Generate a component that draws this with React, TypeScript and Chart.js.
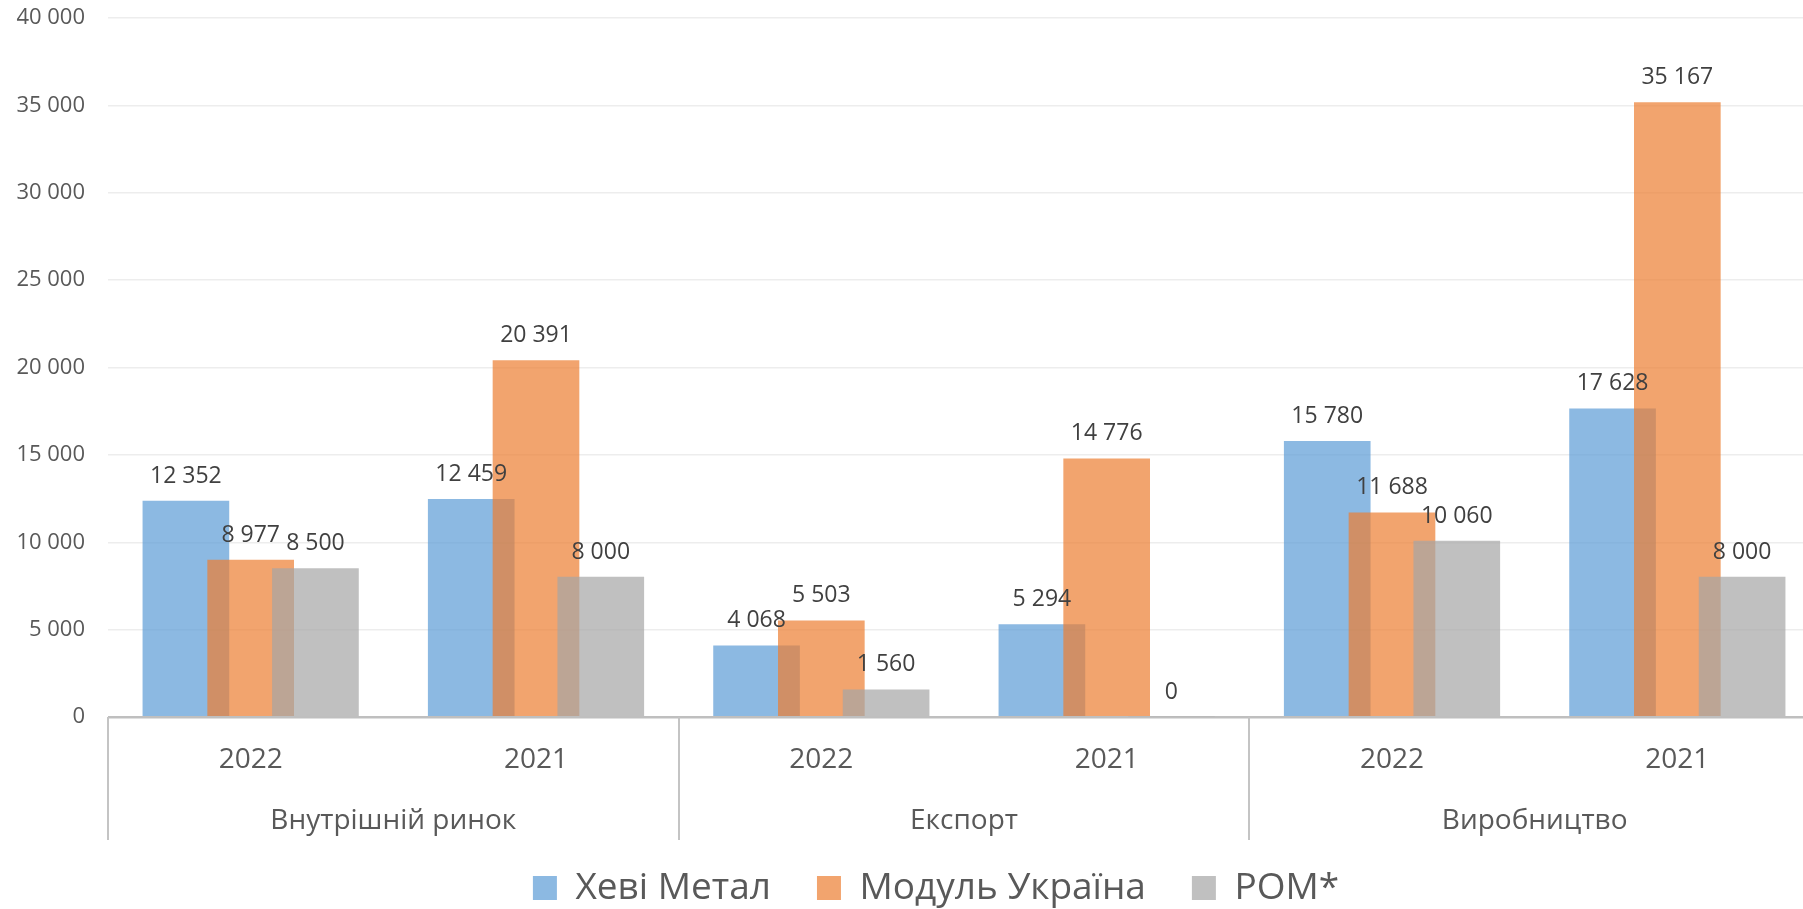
import React, { useEffect, useRef } from "react";
import { Chart, registerables } from "chart.js";

Chart.register(...registerables);

const YEARS = ["2022", "2021", "2022", "2021", "2022", "2021"];
const GROUPS = ["Внутрішній ринок", "Експорт", "Виробництво"];
const SERIES_NAMES = ["Хеві Метал", "Модуль Україна", "РОМ*"];
const HEVI_METAL = [12352, 12459, 4068, 5294, 15780, 17628];
const MODUL_UKRAINA = [8977, 20391, 5503, 14776, 11688, 35167];
const ROM = [8500, 8000, 1560, 0, 10060, 8000];
const Y_MAX = 40000;
const Y_STEP = 5000;

const COLORS = ["rgba(91,155,213,0.7)", "rgba(237,125,49,0.7)", "rgba(165,165,165,0.7)"];
const SHIFT = [-0.227, 0, 0.227];
const FONT = "'Open Sans', 'DejaVu Sans', sans-serif";

const fmt = (v: number) => String(v).replace(/\B(?=(\d{3})+(?!\d))/g, " ");

const labelsPlugin = {
  id: "barLabels",
  afterDatasetsDraw(chart: any) {
    const ctx = chart.ctx;
    ctx.save();
    ctx.font = `23px ${FONT}`;
    ctx.fillStyle = "#404040";
    ctx.textAlign = "center";
    ctx.textBaseline = "middle";
    chart.data.datasets.forEach((ds: any, di: number) => {
      const meta = chart.getDatasetMeta(di);
      meta.data.forEach((bar: any, i: number) => {
        const v = ds.data[i].y;
        ctx.fillText(fmt(v), bar.x, bar.y - 25);
      });
    });
    ctx.restore();
  },
};

const groupAxisPlugin = {
  id: "groupAxis",
  afterDraw(chart: any) {
    const ctx = chart.ctx;
    const xs = chart.scales.x;
    const area = chart.chartArea;
    ctx.save();
    ctx.strokeStyle = "#C4C4C4";
    ctx.lineWidth = 2;
    for (let g = 0; g <= GROUPS.length; g++) {
      const x = Math.round(xs.getPixelForValue(2 * g));
      ctx.beginPath();
      ctx.moveTo(x, area.bottom);
      ctx.lineTo(x, area.bottom + 123);
      ctx.stroke();
    }
    ctx.font = `28px ${FONT}`;
    ctx.fillStyle = "#595959";
    ctx.textAlign = "center";
    ctx.textBaseline = "middle";
    GROUPS.forEach((name, g) => {
      ctx.fillText(name, xs.getPixelForValue(2 * g + 1), area.bottom + 104);
    });
    ctx.restore();
  },
};

export default function App() {
  const ref = useRef<HTMLCanvasElement>(null);
  useEffect(() => {
    document.body.style.margin = "0";
    document.body.style.overflow = "hidden";
    document.documentElement.style.overflow = "hidden";
    const series = [HEVI_METAL, MODUL_UKRAINA, ROM];
    const chart = new Chart(ref.current as HTMLCanvasElement, {
      type: "bar",
      data: {
        datasets: series.map((vals, s) => ({
          label: SERIES_NAMES[s],
          data: vals.map((v, i) => ({ x: i + 0.5 + SHIFT[s], y: v })),
          backgroundColor: COLORS[s],
          borderColor: COLORS[s],
          borderWidth: 0,
          grouped: false,
          barThickness: 86,
          order: 2 - s,
          xAxisID: "x",
          yAxisID: "y",
        })),
      },
      options: {
        animation: false,
        responsive: true,
        maintainAspectRatio: false,
        layout: { padding: { top: 18, left: 0, right: 0, bottom: 0 } },
        plugins: {
          tooltip: { enabled: false },
          legend: {
            position: "bottom",
            maxHeight: 85.5,
            labels: {
              font: { family: FONT, size: 37 },
              color: "#595959",
              boxWidth: 24,
              boxHeight: 24,
              padding: 46,
              sort: (a: any, b: any) => a.datasetIndex - b.datasetIndex,
            },
          },
        },
        scales: {
          x: {
            type: "linear",
            min: 0,
            max: 6,
            offset: false,
            grace: 0,
            bounds: "data",
            position: "bottom",
            grid: { display: false, drawTicks: false },
            border: { display: false },
            afterBuildTicks: (s: any) => {
              s.ticks = YEARS.map((_, i) => ({ value: i + 0.5 }));
            },
            ticks: {
              font: { family: FONT, size: 28 },
              color: "#595959",
              padding: 26,
              maxRotation: 0,
              autoSkip: false,
              callback: (_v: any, i: number) => YEARS[i],
            },
            afterFit: (s: any) => { s.height = 106.5; },
          },
          y: {
            min: 0,
            max: Y_MAX,
            border: { display: false },
            grid: {
              drawTicks: true,
              tickLength: 23,
              tickColor: "rgba(0,0,0,0)",
              color: (c: any) => (c.tick && c.tick.value === 0 ? "#BFBFBF" : "#EDEDED"),
              lineWidth: (c: any) => (c.tick && c.tick.value === 0 ? 2.5 : 1.5),
            },
            ticks: {
              stepSize: Y_STEP,
              padding: 0,
              font: { family: FONT, size: 22 },
              color: "#595959",
              callback: (v: any) => fmt(Number(v)),
            },
            afterFit: (s: any) => { s.width = 108; },
          },
          yR: {
            type: "linear",
            position: "right",
            display: true,
            grid: { display: false, drawTicks: false },
            border: { display: false },
            ticks: { display: false },
            afterFit: (s: any) => { s.width = 52; },
          },
        },
      },
      plugins: [labelsPlugin, groupAxisPlugin],
    });
    return () => chart.destroy();
  }, []);
  return (
    <div style={{ position: "absolute", left: 0, top: 0, width: 1872, height: 909 }}>
      <canvas ref={ref} />
    </div>
  );
}
